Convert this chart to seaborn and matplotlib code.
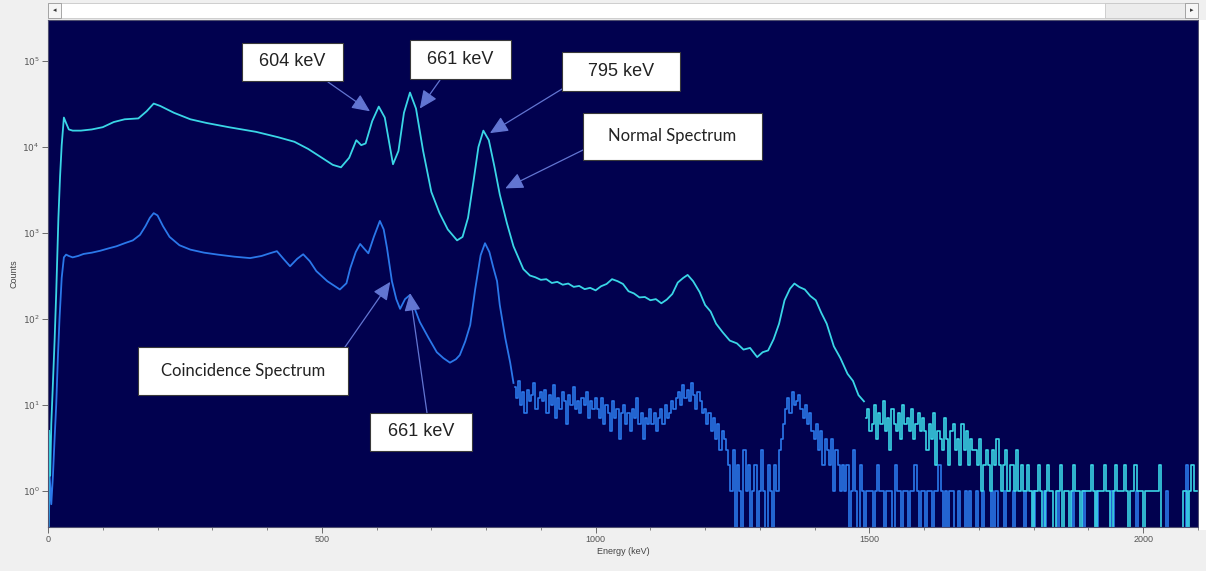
import matplotlib
matplotlib.use("Agg")
import numpy as np
import pandas as pd
import matplotlib.pyplot as plt
from matplotlib.patches import Rectangle
import seaborn as sns

# ---- data ----
# normal spectrum, smooth part (keV, counts)
normal_kev = [0, 2, 4, 6, 9, 12, 15, 19, 22, 25, 29, 33, 38, 45, 60, 80, 100, 120,
              140, 165, 180, 193, 205, 230, 260, 290, 330, 380, 420, 450, 475, 500,
              520, 535, 550, 563, 572, 580, 592, 604, 615, 630, 640, 650, 661, 672,
              685, 700, 715, 730, 747, 757, 767, 777, 786, 795, 805, 815, 825, 838,
              850, 868, 880, 890, 900, 910, 920, 930, 940, 950, 960, 970, 980, 990,
              1000, 1010, 1020, 1030, 1040, 1050, 1060, 1070, 1080, 1090, 1100, 1110,
              1120, 1130, 1140, 1150, 1160, 1168, 1178, 1190, 1200, 1210, 1220, 1232,
              1245, 1258, 1270, 1282, 1295, 1305, 1315, 1325, 1335, 1345, 1355, 1363,
              1372, 1382, 1392, 1402, 1412, 1422, 1435, 1447, 1460, 1470, 1480, 1490]
normal_counts = [0.1, 5, 1.5, 6, 18, 55, 200, 1500, 4500, 10500, 22000, 19000, 16000,
                 15500, 15500, 16000, 17000, 19500, 21000, 21500, 26000, 32000, 30000,
                 25000, 21000, 19000, 17000, 15000, 13000, 11500, 9500, 7500, 6200,
                 5800, 7500, 12000, 10500, 11000, 20000, 29500, 22000, 6300, 9000,
                 25000, 43000, 28000, 9000, 3000, 1700, 1100, 820, 900, 1500, 4000,
                 10000, 15500, 12000, 6000, 2800, 1300, 700, 380, 320, 305, 285, 290,
                 262, 270, 250, 258, 236, 242, 222, 230, 215, 240, 255, 290, 275, 255,
                 210, 198, 178, 180, 165, 170, 152, 168, 195, 265, 300, 325, 275, 205,
                 145, 122, 88, 70, 56, 52, 44, 46, 36, 41, 43, 58, 88, 165, 225, 258,
                 235, 220, 185, 165, 118, 88, 48, 35, 23, 19, 13, 11]

# normal spectrum, noisy tail: counts per 4 keV channel from 1494 keV
normal_tail_start = 1494
normal_tail = [7, 9, 5, 6, 10, 4, 8, 6, 11, 5, 7, 3, 9, 6, 5, 8, 4, 10, 6, 7, 5, 9, 4, 6, 8, 5, 7,
               5, 3, 6, 4, 8, 2, 5, 4, 3, 7, 4, 2, 5, 6, 3, 4, 2, 6, 3, 5, 2, 4, 3,
               3, 2, 4, 1, 2, 3, 2, 1, 3, 2, 4, 2, 1, 2, 3, 1, 2, 2, 1, 3, 1, 2, 1,
               1, 2, 1, 0, 1, 1, 2, 1, 0, 1, 2, 1, 1, 0, 1, 1, 2, 0, 1, 1, 0, 1, 2, 1, 1, 0, 1, 1,
               1, 1, 2, 1, 0, 1, 1, 1, 2, 1, 1, 0, 1, 2, 1, 1, 1, 2, 1, 0, 1, 1, 2, 1, 1, 1,
               0, 1, 1, 1, 1, 1, 1, 2, 0, 0, 0, 0, 0, 0, 0, 0, 0, 0, 1, 1, 0, 1, 2, 1, 1]

# coincidence spectrum, smooth part (keV, counts)
coinc_kev = [0, 3, 6, 9, 12, 15, 18, 21, 25, 29, 33, 38, 45, 55, 65, 80, 95, 110, 125,
             140, 155, 168, 178, 186, 193, 200, 210, 222, 240, 260, 285, 310, 340, 369,
             390, 405, 418, 430, 442, 455, 466, 478, 490, 510, 533, 545, 552, 562, 570,
             578, 585, 595, 606, 613, 619, 628, 636, 643, 652, 661, 670, 679, 695, 710,
             722, 734, 745, 752, 762, 771, 780, 790, 798, 806, 813, 820, 825, 835, 844, 850]
coinc_counts = [0.1, 1.5, 0.7, 1.5, 4, 10, 35, 100, 300, 520, 560, 540, 520, 540, 570,
                590, 620, 660, 700, 760, 820, 950, 1200, 1500, 1700, 1600, 1200, 900,
                720, 640, 590, 560, 530, 510, 540, 580, 614, 500, 410, 500, 565, 470,
                360, 275, 220, 260, 390, 600, 745, 650, 580, 900, 1380, 1100, 670, 275,
                170, 131, 170, 190, 130, 92, 60, 41, 35, 31, 34, 38, 55, 85, 220, 550,
                760, 600, 400, 275, 145, 60, 31, 18]

# coincidence spectrum, noisy tail: counts per 4 keV channel from 852 keV
coinc_tail_start = 852
coinc_tail = [16, 12, 19, 10, 14, 8, 15, 11, 13, 18, 9, 12, 14,
              11, 15, 8, 13, 10, 17, 7, 12, 9, 14, 11, 6, 13, 10, 16, 9, 11, 8, 12, 10, 14, 7, 11, 9, 12,
              9, 7, 12, 6, 10, 8, 5, 11, 7, 9, 4, 8, 10, 6, 8, 5, 9, 7, 12, 6, 8, 4, 7, 6, 9,
              6, 8, 5, 7, 9, 6, 10, 7, 8, 11, 9, 12,
              14, 10, 17, 12, 15, 11, 18, 13, 9, 14, 11, 8,
              9, 6, 8, 5, 7, 4, 6, 3, 5, 4, 3,
              2, 1, 3, 0, 2, 1, 0, 3, 1, 2, 0, 1, 2, 0, 1, 3, 1, 0, 2, 1, 0, 2, 1, 3, 4,
              6, 9, 12, 8, 14, 10, 11, 13, 9, 7, 10, 6, 8,
              5, 4, 6, 3, 5, 2, 4, 3, 2, 4, 1, 3, 2, 1, 2,
              1, 2, 0, 1, 3, 1, 0, 2, 1, 0, 1,
              1, 1, 0, 1, 2, 1, 1, 0, 1, 1, 1, 0, 2, 1, 1, 0, 1, 1, 0, 1,
              1, 2, 1, 0, 1, 1, 0, 1, 1, 0, 1, 1, 2, 1, 0, 1, 0, 1, 1, 0,
              0, 1, 0, 0, 1, 0, 1, 0, 0, 1, 0, 0, 1, 0, 0, 0, 1, 0, 1, 0,
              0, 0, 1, 0, 0, 0, 1, 0, 0, 0, 0, 1, 0, 0, 0, 1, 0, 0, 0, 0,
              1, 0, 0, 0, 0, 0, 1, 0, 0, 0, 0, 0, 0, 1, 0, 0, 0, 0, 1, 0,
              0, 0, 0, 0, 1, 0, 0, 0, 0, 0, 0, 1, 0, 0, 0, 0, 0, 0, 0, 0,
              0, 0, 1, 0, 0, 0, 0, 0, 0, 0, 0, 0, 0, 0, 0, 0, 1, 0, 0, 0,
              0, 0, 0, 0, 0, 2, 0, 0, 0, 0]
channel_kev = 4

# annotations: label, box (left, top, right, bottom) in picture pixels,
# arrow start in picture pixels, arrow tip (keV, counts)
labels = ["604 keV", "661 keV", "795 keV", "Normal Spectrum", "Coincidence Spectrum", "661 keV"]
boxes = [(242, 43, 343, 81), (410, 40, 511, 79), (562, 52, 680, 91),
         (583, 113, 762, 160), (138, 347, 348, 395), (370, 413, 472, 451)]
arrow_from = [(328, 82), (440, 80), (562, 89), (583, 150), (345, 347), (427, 413)]
arrow_to = [(588, 26000), (679, 28000), (807, 14500), (835, 3300), (625, 270), (661, 200)]
label_fonts = ["Liberation Sans", "Liberation Sans", "Liberation Sans", "Lato", "Lato", "Liberation Sans"]

W, H = 1206, 571
NAVY = "#01014f"
CYAN = "#3ad6e6"
BLUE = "#2b78ea"
ARROW = "#6275d2"


def fx(x):
    return x / W


def fy(y):
    return 1 - y / H


def tail_frame(start, counts):
    c = np.asarray(counts, dtype=float)
    # empty channels are sent below the axis floor, as the original drops to the bottom
    c = np.where(c > 0, c, 0.1)
    return pd.DataFrame({"energy": start + channel_kev * np.arange(len(c)), "counts": c})


plt.rcParams["font.family"] = ["Liberation Sans", "DejaVu Sans"]

fig = plt.figure(figsize=(W / 100, H / 100), dpi=100, facecolor="#f0f0f0")
ax = fig.add_axes([fx(48), fy(527), fx(1198) - fx(48), fy(20) - fy(527)])
ax.set_facecolor(NAVY)
ax.set_yscale("log")

coinc = pd.DataFrame({"energy": coinc_kev, "counts": coinc_counts})
normal = pd.DataFrame({"energy": normal_kev, "counts": normal_counts})

sns.lineplot(data=coinc, x="energy", y="counts", ax=ax, color=BLUE, lw=1.3,
             sort=False, estimator=None)
sns.lineplot(data=tail_frame(coinc_tail_start, coinc_tail), x="energy", y="counts",
             ax=ax, color=BLUE, lw=1.2, sort=False, estimator=None, drawstyle="steps-mid")
sns.lineplot(data=normal, x="energy", y="counts", ax=ax, color=CYAN, lw=1.3,
             sort=False, estimator=None)
sns.lineplot(data=tail_frame(normal_tail_start, normal_tail), x="energy", y="counts",
             ax=ax, color=CYAN, lw=1.2, sort=False, estimator=None, drawstyle="steps-mid")

ax.set_xlim(0, 2100)
ax.set_ylim(0.38, 3.0e5)
ax.set_xticks([0, 500, 1000, 1500, 2000])
ax.set_xticks(np.arange(0, 2101, 100), minor=True)
ax.set_yticks([1, 10, 100, 1000, 1e4, 1e5])
ax.set_yticklabels([r"$10^{%d}$" % i for i in range(6)])
ax.yaxis.set_minor_locator(matplotlib.ticker.NullLocator())
ax.tick_params(axis="both", which="major", labelsize=6.5, colors="#555555",
               length=4, width=0.6, pad=2)
ax.tick_params(axis="x", which="minor", length=2.5, width=0.5, colors="#555555")
ax.set_xlabel("Energy (keV)", fontsize=6.5, color="#444444", labelpad=2)
ax.set_ylabel("Counts", fontsize=6.5, color="#444444", labelpad=3)
for s in ax.spines.values():
    s.set_color("#505070")
    s.set_linewidth(0.8)

# annotation boxes and arrows
for lab, (l, t, r, b), (sx, sy), tip, fam in zip(labels, boxes, arrow_from, arrow_to, label_fonts):
    ax.annotate("", xy=tip, xycoords="data", xytext=(fx(sx), fy(sy)),
                textcoords="figure fraction",
                arrowprops=dict(arrowstyle="-|>,head_length=1.1,head_width=0.5",
                                color=ARROW, lw=0.9, shrinkA=0, shrinkB=0))
    fig.add_artist(Rectangle((fx(l), fy(b)), fx(r) - fx(l), fy(t) - fy(b),
                             transform=fig.transFigure, facecolor="white",
                             edgecolor="#3a3a3a", lw=0.8, zorder=5))
    fig.text(fx((l + r) / 2), fy((t + b) / 2), lab, ha="center", va="center",
             fontsize=13 if fam == "Liberation Sans" else 12, color="#222222",
             family=fam, zorder=6)

# scroll bar along the top and strip at the right edge of the window
fig.add_artist(Rectangle((fx(48), fy(18)), fx(1198) - fx(48), fy(3) - fy(18),
                         transform=fig.transFigure, facecolor="white", edgecolor="#c8c8c8", lw=0.6))
fig.add_artist(Rectangle((fx(1105), fy(18)), fx(1185) - fx(1105), fy(3) - fy(18),
                         transform=fig.transFigure, facecolor="#ececec", edgecolor="#c8c8c8", lw=0.6))
for bx in (48, 1185):
    fig.add_artist(Rectangle((fx(bx), fy(18)), fx(13), fy(3) - fy(18),
                             transform=fig.transFigure, facecolor="#f6f6f6", edgecolor="#9a9a9a", lw=0.6))
fig.text(fx(54.5), fy(10.5), "\u25c2", ha="center", va="center", fontsize=5, color="#333333",
         family="DejaVu Sans")
fig.text(fx(1191.5), fy(10.5), "\u25b8", ha="center", va="center", fontsize=5, color="#333333",
         family="DejaVu Sans")
fig.add_artist(Rectangle((fx(1199), fy(530)), fx(7), fy(20) - fy(530),
                         transform=fig.transFigure, facecolor="white", edgecolor="none"))

fig.savefig("out.png", dpi=100, facecolor=fig.get_facecolor())
